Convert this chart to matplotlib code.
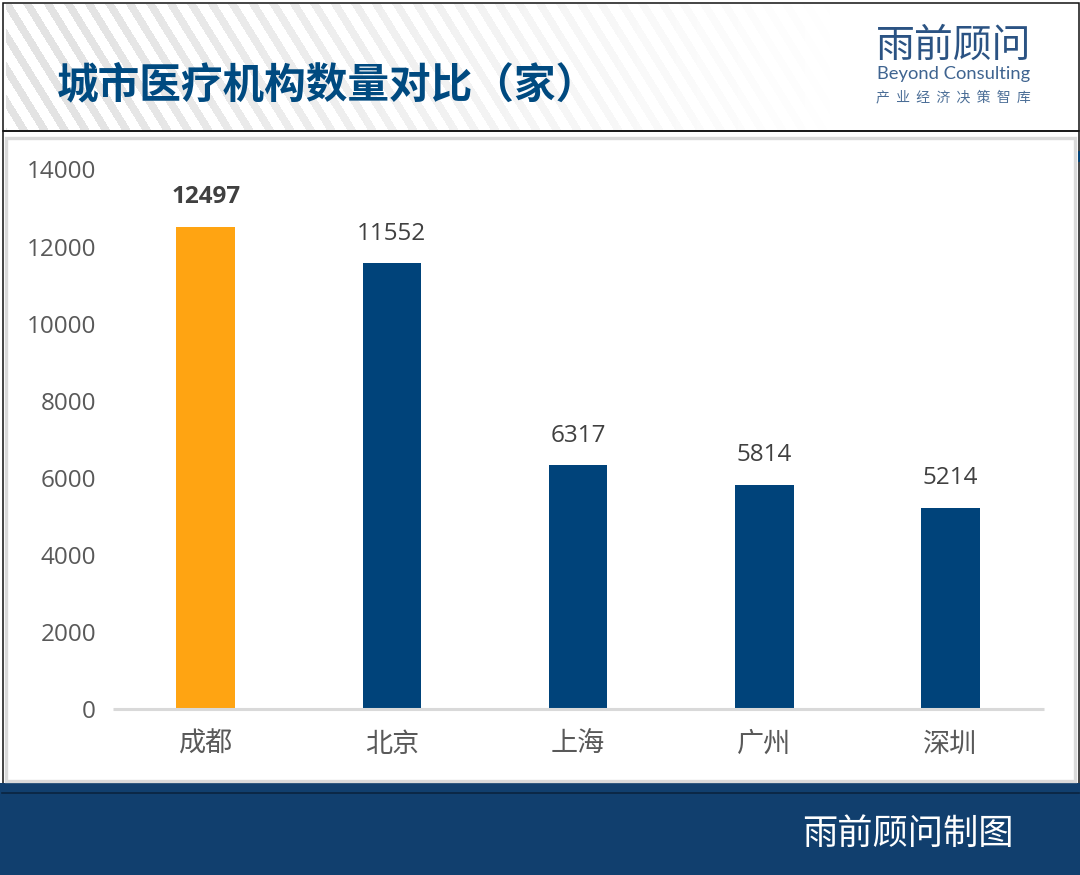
import matplotlib
matplotlib.use('Agg')
import matplotlib.pyplot as plt
from matplotlib.patches import Rectangle
from matplotlib.transforms import ScaledTranslation
import numpy as np

cities = ['成都', '北京', '上海', '广州', '深圳']
counts = [12497, 11552, 6317, 5814, 5214]
yticks = [0, 2000, 4000, 6000, 8000, 10000, 12000, 14000]
title = '城市医疗机构数量对比（家）'

W, H = 1080, 875
NAVY = '#00437a'
plt.rcParams['font.family'] = ['Open Sans', 'Noto Sans CJK SC', 'DejaVu Sans']

fig = plt.figure(figsize=(W / 100, H / 100), dpi=100, facecolor='white')

# page furniture, drawn in pixel coords
bg = fig.add_axes([0, 0, 1, 1])
bg.set_xlim(0, W)
bg.set_ylim(H, 0)
bg.axis('off')

# diagonal stripes in the header, fading out to the right
yy, xx = np.mgrid[4:130, 6:1076]
stripes = ((xx - yy * 0.62) % 20.5) < 9
fade = np.clip((860 - xx) / 800, 0, 1)
alpha = stripes * fade ** 1.15 * 0.17
rgba = np.zeros(xx.shape + (4,))
rgba[..., :3] = 0.35
rgba[..., 3] = alpha
bg.imshow(rgba, extent=(6, 1076, 130, 4), aspect='auto', interpolation='bilinear', zorder=1)
bg.set_xlim(0, W)
bg.set_ylim(H, 0)

bg.add_patch(Rectangle((2.5, 2.5), 1076, 128.5, fc='none', ec='#111111', lw=1.1, zorder=2))
bg.add_patch(Rectangle((2.5, 131), 1076, 661.5, fc='none', ec='#111111', lw=1.1, zorder=2))
bg.add_patch(Rectangle((5.5, 137.5), 1069.5, 643, fc='white', ec='#dadada', lw=2.4, zorder=3))
bg.add_patch(Rectangle((0, 783), W, H - 783, fc='#113f6e', ec='none', zorder=2.5))
bg.plot([2, 1079], [792.5, 792.5], color='#0a2440', lw=1.2, zorder=5)
bg.plot([1078.5, 1078.5], [152, 160], color=NAVY, lw=2, zorder=5)

bg.text(57, 85, title, fontsize=30, fontweight='bold', color='#004a80',
        family=['Noto Sans CJK SC'], va='center', ha='left', zorder=6)

# logo block
bg.text(953.5, 46, '雨前顾问', fontsize=28, color='#2b5383', family=['Noto Sans CJK SC'],
        va='center', ha='center', zorder=6)
bg.text(953.5, 74, 'Beyond Consulting', fontsize=13.2, color='#3f6490', family=['Lato'],
        va='center', ha='center', zorder=6)
bg.text(953.5, 97, '产  业  经  济  决  策  智  库', fontsize=10, color='#4a6d96',
        family=['Noto Sans CJK SC'], va='center', ha='center', zorder=6)

bg.text(907.5, 833.5, '雨前顾问制图', fontsize=25.4, color='white',
        family=['Noto Sans CJK SC'], va='center', ha='center', zorder=6)

# the chart
ax = fig.add_axes([112.6 / W, 1 - 708.6 / H, (1043.6 - 112.6) / W, (708.6 - 169) / H])
ax.patch.set_alpha(0)
x = np.arange(len(cities))
colors = ['#ffa412'] + [NAVY] * 4
ax.bar(x, counts, width=0.315, color=colors, zorder=2)
ax.set_xlim(-0.5, 4.5)
ax.set_ylim(0, 14000)
ax.set_yticks(yticks)
ax.set_xticks(x)
ax.set_xticklabels(cities, family=['Noto Sans CJK SC'])
ax.tick_params(axis='x', length=0, pad=16, labelsize=19.5, labelcolor='#595959')
ax.tick_params(axis='y', length=0, pad=12, labelsize=17.5, labelcolor='#595959')
for lab in ax.get_yticklabels():
    lab.set_transform(lab.get_transform() + ScaledTranslation(0, -0.5 / 100, fig.dpi_scale_trans))
for s in ['top', 'left', 'right']:
    ax.spines[s].set_visible(False)
ax.spines['bottom'].set_color('#d9d9d9')
ax.spines['bottom'].set_linewidth(2.2)
ax.spines['bottom'].set_capstyle('butt')

for i, v in enumerate(counts):
    ax.annotate(str(v), (i, v), xytext=(0, 21.3), textcoords='offset points',
                ha='center', va='center', fontsize=17.5, color='#404040',
                fontweight='bold' if i == 0 else 'normal')

fig.savefig('out.png', dpi=100)
